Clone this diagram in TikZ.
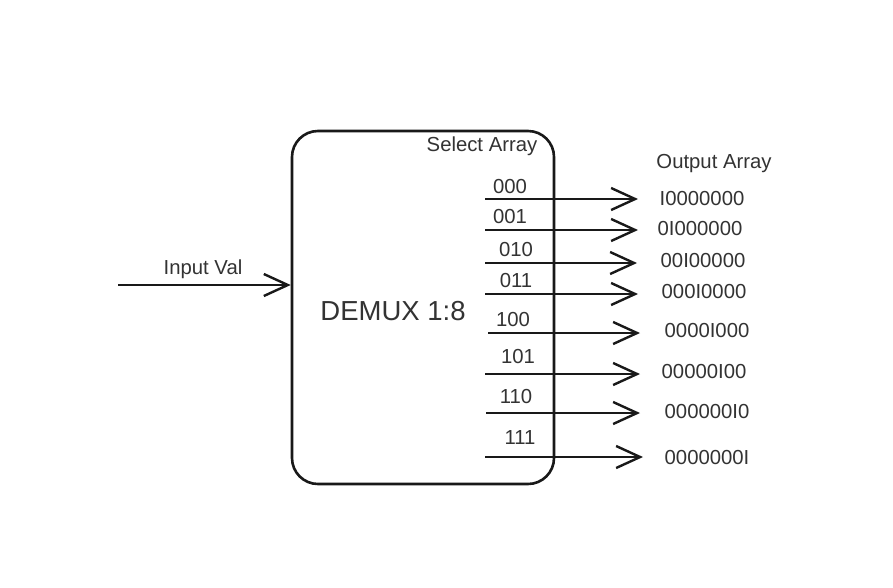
\documentclass[tikz,border=0pt]{standalone}
\usepackage{fontspec}
\setmainfont{Liberation Sans}
\usetikzlibrary{arrows.meta}
\begin{document}
\begin{tikzpicture}[x=1pt,y=-1pt,
  txt/.style={font=\fontsize{20.3}{23}\selectfont, text=black!80, inner sep=0pt},
  wire/.style={line width=2.6pt, draw=black!90, -{Straight Barb[length=24pt,width=22pt,line width=2.4pt]}},
  blk/.style={draw=black!90, line width=2.6pt, rounded corners=26pt, minimum width=262pt, minimum height=353pt, inner sep=0pt}]
\useasboundingbox[fill=white] (0,0) rectangle (893,587);
\node[blk] (box) at (423,307.5) {};
\node[font=\fontsize{27.5}{30}\selectfont, text=black!80, inner sep=0pt] (demux) at (393,311) {DEMUX 1:8};
\node[txt] (sel) at (482,146) {Select Array};
\node[txt] (outt) at (714,164) {Output Array};
\node[txt] (inl) at (203,269) {Input Val};
\coordinate (in0) at (118,285);
\draw[wire] (in0) -- (box.west |- in0);
% rows
\foreach \n/\y/\sx/\tx/\lx/\ly/\code in {
 1/199/485/638/510/187/000,
 2/230/485/638/510/217/001,
 3/263/485/637/516/250/010,
 4/294/485/638/516/281/011,
 5/333/488/640/513/320/100,
 6/374/485/640/518/357/101,
 7/413/486/640/516/397/110,
 8/457/485/643/520/438/111}{
  \coordinate (s\n) at (\sx,\y);
  \coordinate (t\n) at (\tx,\y);
  \node[txt] (c\n) at (\lx,\ly) {\code};
  \draw[wire] (s\n) -- (t\n);
}
\node[txt] (o1) at (702,199) {I0000000};
\node[txt] (o2) at (700,229) {0I000000};
\node[txt] (o3) at (703,261) {00I00000};
\node[txt] (o4) at (704,292) {000I0000};
\node[txt] (o5) at (707,331) {0000I000};
\node[txt] (o6) at (704,372) {00000I00};
\node[txt] (o7) at (707,412) {000000I0};
\node[txt] (o8) at (707,458) {0000000I};
\end{tikzpicture}
\end{document}
